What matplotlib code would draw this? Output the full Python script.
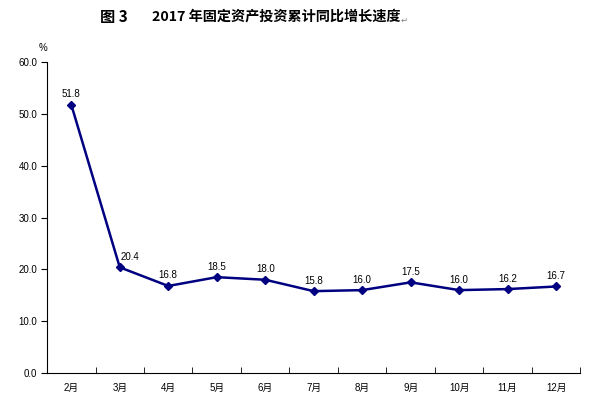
import matplotlib.pyplot as plt
import numpy as np

plt.rcParams['font.family'] = ['Liberation Sans', 'Noto Sans CJK SC', 'DejaVu Sans']

months = ['2月', '3月', '4月', '5月', '6月', '7月', '8月', '9月', '10月', '11月', '12月']
growth = [51.8, 20.4, 16.8, 18.5, 18.0, 15.8, 16.0, 17.5, 16.0, 16.2, 16.7]
yticks = [0, 10, 20, 30, 40, 50, 60]

fig = plt.figure(figsize=(5.9, 3.98), dpi=100)
ax = fig.add_axes([0.0797, 0.0628, 0.904, 0.781])

x = np.arange(len(months))
ax.plot(x, growth, color='#000080', lw=1.8, marker='D', ms=4)
for i, (xi, v) in enumerate(zip(x, growth)):
    # the 3月 label sits to the right of the steep segment
    dx = 7 if i == 1 else 0
    ax.annotate('%.1f' % v, (xi, v), xytext=(dx, 4), textcoords='offset points',
                ha='center', va='bottom', fontsize=7)

ax.set_xlim(-0.5, len(months) - 0.5)
ax.set_ylim(0, 60)
ax.set_yticks(yticks)
ax.set_yticklabels(['%.1f' % t for t in yticks], fontsize=7)
ax.set_xticks(x)
ax.set_xticklabels(months, fontsize=7)
ax.set_xticks(np.arange(len(months) + 1) - 0.5, minor=True)
ax.tick_params(axis='x', which='major', length=0, pad=7)
ax.tick_params(axis='x', which='minor', direction='in', length=4)
ax.tick_params(axis='y', direction='out', length=4, pad=3)
ax.spines['top'].set_visible(False)
ax.spines['right'].set_visible(False)

fig.text(43 / 590, 1 - 48 / 398, '%', fontsize=7, ha='center', va='center')
title_kw = dict(fontweight='bold', ha='left', va='center',
                family=['Noto Sans CJK SC', 'DejaVu Sans'])
fig.text(100 / 590, 1 - 17 / 398, '图 3', fontsize=11, **title_kw)
fig.text(152 / 590, 1 - 17 / 398, '2017 年固定资产投资累计同比增长速度',
         fontsize=10.2, **title_kw)
fig.text(401 / 590, 1 - 20 / 398, '↵', fontsize=6, color='gray', ha='left', va='center',
         family=['DejaVu Sans'])

fig.savefig('out.png', dpi=100)
